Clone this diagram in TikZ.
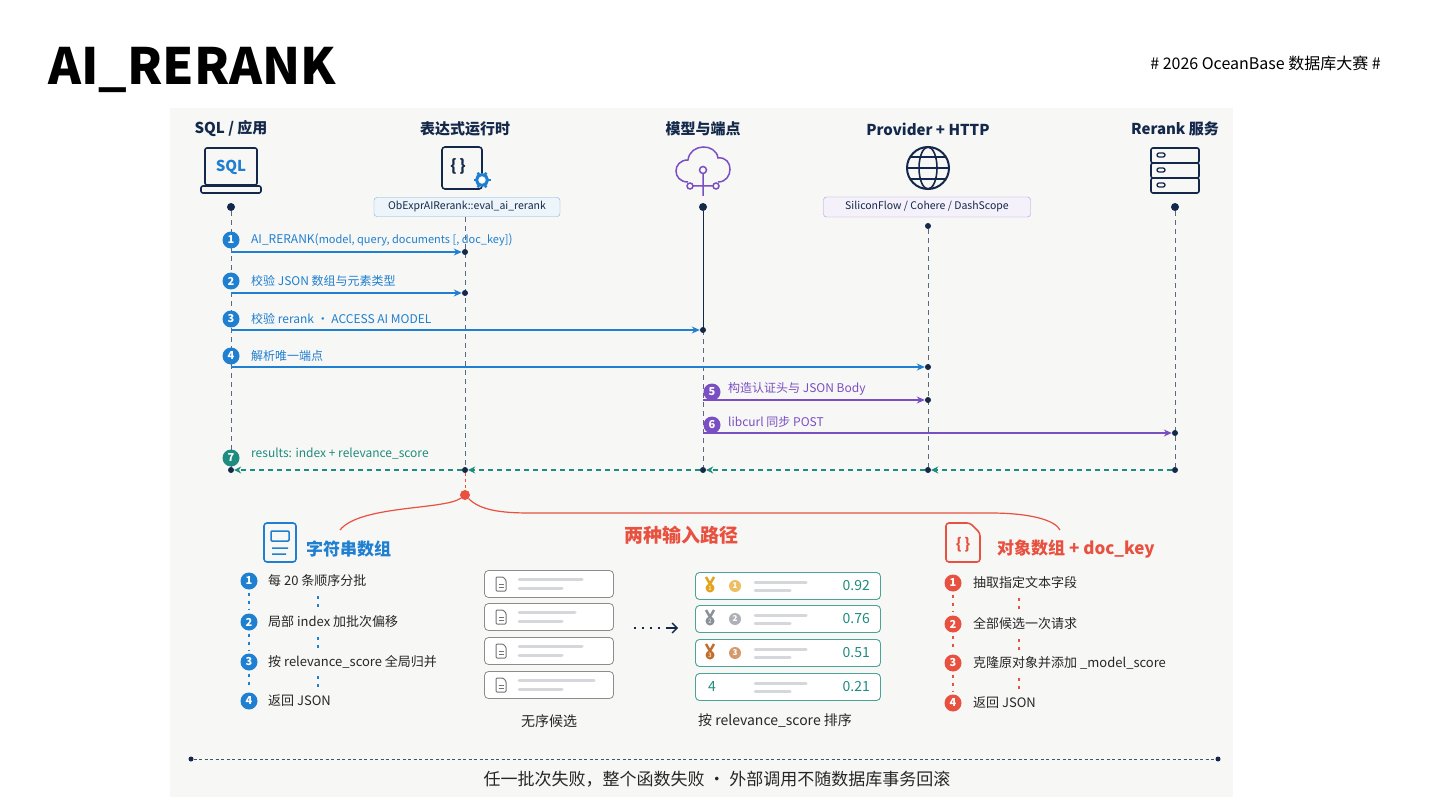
\documentclass[tikz,border=0pt]{standalone}
\usepackage{fontspec}
\setmainfont{Noto Sans CJK SC}
\usetikzlibrary{arrows.meta,calc}
\definecolor{cb}{HTML}{1F7FD0}
\definecolor{cp}{HTML}{7B4FC4}
\definecolor{ct}{HTML}{1E8C7E}
\definecolor{cr}{HTML}{E8503F}
\definecolor{cd}{HTML}{13284A}
\definecolor{bg}{HTML}{F7F7F5}
\definecolor{gl}{HTML}{D5D7DA}
\definecolor{gold}{HTML}{E2A41F}
\definecolor{silver}{HTML}{8A9098}
\definecolor{bronze}{HTML}{C0702E}
\tikzset{
 fs/.code={\fontsize{#1}{#1}\selectfont},
 hdr/.style={font={\fontsize{15}{15}\selectfont\bfseries},text=cd},
 dot/.style={circle,fill=cd,inner sep=0,minimum size=8pt},
 sdot/.style={circle,fill=cd,inner sep=0,minimum size=6pt},
 life/.style={cd!70,dashed,line width=0.8pt,dash pattern=on 5pt off 4pt},
 num/.style={circle,fill=#1,text=white,inner sep=0,minimum size=17pt,font={\fontsize{11}{11}\selectfont\bfseries}},
 msg/.style={anchor=west,text=#1,font={\fontsize{12}{12}\selectfont},inner sep=0},
 arr/.style={draw=#1,line width=1.3pt,-{Stealth[length=8pt,width=7pt]}},
 ret/.style={draw=ct,line width=1.1pt,dash pattern=on 5pt off 4pt,-{Stealth[length=7pt,width=7pt]}},
 item/.style={anchor=west,text=black!85,font={\fontsize{13}{13}\selectfont},inner sep=0},
 card/.style={draw=black!45,rounded corners=4pt,line width=0.8pt,fill=white},
 rcard/.style={draw=ct!80,rounded corners=4pt,line width=0.9pt,fill=white},
 bar/.style={draw=gl,line width=3pt,line cap=round},
 vdots/.style={draw=#1,line width=1.3pt,dash pattern=on 3pt off 5pt},
}
\begin{document}
\begin{tikzpicture}[x=1pt,y=-1pt]
\useasboundingbox (0,0) rectangle (1440,810);
\fill[white] (0,0) rectangle (1440,810);
\fill[bg] (170,108) rectangle (1233,797);
\node[anchor=west,inner sep=0,font={\fontsize{50}{50}\selectfont\bfseries},text=black] (title) at (48,70) {AI\_RERANK};
\node[anchor=east,inner sep=0,font={\fontsize{16}{16}\selectfont},text=black] (tag) at (1381,63) {\# 2026 OceanBase 数据库大赛 \#};
% headers
\node[hdr] (h1) at (231,129) {SQL / 应用};
\node[hdr] (h2) at (465,129) {表达式运行时};
\node[hdr] (h3) at (703,129) {模型与端点};
\node[hdr] (h4) at (928,129) {Provider + HTTP};
\node[hdr] (h5) at (1175,129) {Rerank 服务};
% icons
\draw[cd,line width=1.6pt,rounded corners=2pt] (205,148) rectangle (257,185);
\node[text=cb,font={\fontsize{15}{15}\selectfont\bfseries}] (sqlt) at (231,167) {SQL};
\draw[cd,line width=1.6pt,rounded corners=2pt] (201,186) rectangle (261,193);
\draw[cd,line width=1.6pt,rounded corners=3pt] (442,147) rectangle (482,189);
\node[text=cd,font={\fontsize{16}{16}\selectfont\bfseries}] (br) at (458,166) {\{\,\}};
\draw[cb,line width=3pt,fill=bg] (482,180) circle (5.5);
\foreach \a in {0,60,...,300}{\draw[cb,line width=2.5pt] ($(482,180)+(\a:5)$)--($(482,180)+(\a:8.5)$);}
\fill[white] (482,180) circle (2.2);
% cloud
\draw[cp,line width=1.5pt] (688,182) .. controls (672,182) and (672,160) .. (688,160) .. controls (690,143) and (716,143) .. (718,158) .. controls (734,156) and (734,182) .. (718,182);
\draw[cp,line width=1.5pt] (703,170) circle (3.5) (703,174)--(703,196) (690,186) circle (3) (716,186) circle (3) (693,186)--(713,186);
% globe
\draw[cd,line width=2pt] (928,168) circle (21);
\draw[cd,line width=1.6pt] (928,168) ellipse (9 and 21) (907,168)--(949,168) (911,157)--(945,157) (911,179)--(945,179);
% server
\foreach \yy in {148,163,178}{\draw[cd,line width=1.6pt,rounded corners=2pt] (1151,\yy) rectangle (1199,\yy+15); \draw[cd,line width=1.3pt,rounded corners=2pt] (1157,\yy+5) rectangle (1165,\yy+9);}
% pill labels
\node[draw=cb!60,fill=cb!8,rounded corners=3pt,minimum width=186pt,minimum height=19pt,inner sep=0,text=cd,font={\fontsize{10.5}{10.5}\selectfont}] (p1) at (467,207) {ObExprAIRerank::eval\_ai\_rerank};
\node[draw=cp!60,fill=cp!8,rounded corners=3pt,minimum width=207pt,minimum height=20pt,inner sep=0,text=cd,font={\fontsize{10.5}{10.5}\selectfont}] (p2) at (927,207) {SiliconFlow / Cohere / DashScope};
% lifelines
\node[dot] (t1) at (231,207) {}; \node[dot] (t3) at (703,207) {}; \node[dot] (t5) at (1175,207) {};
\node[sdot] (t4) at (928,226) {};
\coordinate (t2) at (465,217);
\node[sdot] (b1) at (231,470) {}; \node[sdot] (b2) at (465,470) {}; \node[sdot] (b3) at (703,470) {}; \node[sdot] (b4) at (928,470) {}; \node[sdot] (b5) at (1175,470) {};
\draw[life] (t1)--(b1); \draw[life] (t2)--(b2); \draw[life] (t4)--(b4); \draw[life] (t5)--(b5);
\draw[cd,line width=1pt] (t3)--(703,330); \draw[life] (703,330)--(b3);
% messages
\node[sdot] (m1) at (465,252) {}; \node[sdot] (m2) at (465,293) {}; \node[sdot] (m3) at (703,330) {};
\node[sdot] (m4) at (928,367) {}; \node[sdot] (m5) at (928,400) {}; \node[sdot] (m6) at (1175,433) {};
\coordinate (s1) at (231,252); \coordinate (s2) at (231,293); \coordinate (s3) at (231,330); \coordinate (s4) at (231,367);
\coordinate (s5) at (703,400); \coordinate (s6) at (703,433);
\draw[arr=cb] (s1)--(m1); \draw[arr=cb] (s2)--(m2); \draw[arr=cb] (s3)--(m3); \draw[arr=cb] (s4)--(m4);
\draw[arr=cp] (s5)--(m5); \draw[arr=cp] (s6)--(m6);
\node[num=cb] (n1) at (231,240) {1}; \node[msg=cb] (l1) at (251,240) {AI\_RERANK({\fontsize{11}{11}\selectfont model, query, documents [, doc\_key]})};
\node[num=cb] (n2) at (231,281) {2}; \node[msg=cb] (l2) at (251,281) {校验 JSON 数组与元素类型};
\node[num=cb] (n3) at (231,319) {3}; \node[msg=cb] (l3) at (251,319) {校验 rerank · ACCESS AI MODEL};
\node[num=cb] (n4) at (231,356) {4}; \node[msg=cb] (l4) at (251,356) {解析唯一端点};
\node[num=cp] (n5) at (712,392) {5}; \node[msg=cp] (l5) at (728,389) {构造认证头与 JSON Body};
\node[num=cp] (n6) at (712,425) {6}; \node[msg=cp] (l6) at (728,422) {libcurl 同步 POST};
\node[num=ct] (n7) at (231,458) {7}; \node[msg=ct] (l7) at (251,454) {results: index + relevance\_score};
\draw[ret] (b5)--(b4); \draw[ret] (b4)--(b3); \draw[ret] (b3)--(b2); \draw[ret] (b2)--(b1);
% brace
\node[circle,fill=cr,inner sep=0,minimum size=10pt] (rd) at (465,495) {};
\draw[cr,line width=1pt,dash pattern=on 3pt off 3pt] (b2)--(rd);
\draw[cr,line width=1.2pt] (rd) .. controls (445,510) and (360,505) .. (340,530);
\draw[cr,line width=1.2pt] (rd) .. controls (480,510) and (500,513) .. (530,513) -- (990,513) .. controls (1030,513) and (1055,520) .. (1060,530);
\node[text=cr,font={\fontsize{19}{19}\selectfont\bfseries}] (mid) at (681,535) {两种输入路径};
% left section
\draw[cb,line width=1.6pt,rounded corners=3pt] (264,523) rectangle (296,562);
\draw[cb,line width=1.5pt,rounded corners=1pt] (271,531) rectangle (289,541) (272,548)--(288,548) (272,554)--(286,554);
\node[anchor=west,inner sep=0,text=cb,font={\fontsize{17}{17}\selectfont\bfseries}] (lt) at (306,549) {字符串数组};
\foreach \i/\yy/\t in {1/581/每 20 条顺序分批,2/622/局部 index 加批次偏移,3/662/按 relevance\_score 全局归并,4/701/返回 JSON}{
 \node[num=cb] (ln\i) at (249,\yy) {\i}; \node[item] (lx\i) at (268,\yy) {\t};}
\foreach \a/\b in {1/2,2/3,3/4}{\draw[vdots=cb] ($(ln\a.south)+(0,3)$)--($(ln\b.north)+(0,-3)$);}
\foreach \yy in {592,633,672}{\draw[vdots=cb] (318,\yy+4)--(318,\yy+16);}
% cards
\foreach \k/\yy/\w in {1/584/63,2/617/56,3/651/63,4/685/75}{
 \node[card,minimum width=129pt,minimum height=27pt,inner sep=0] (c\k) at (549,\yy) {};
 \draw[black!55,line width=1pt,rounded corners=1pt] (496,\yy-7) -- (503,\yy-7) -- (506,\yy-4) -- (506,\yy+7) -- (496,\yy+7) -- cycle;
 \draw[black!55,line width=0.8pt] (498.5,\yy) -- (503.5,\yy) (498.5,\yy+3) -- (503.5,\yy+3);
 \draw[bar] (519,\yy-5)--(519+\w,\yy-5); \draw[bar] (519,\yy+4)--(562,\yy+4);}
\node[font={\fontsize{14}{14}\selectfont},text=black!85] (ul) at (549,721) {无序候选};
\coordinate (ar0) at (634,628); \coordinate (ar1) at (678,628);
\draw[cd,line width=1.3pt,dash pattern=on 2pt off 6pt] (ar0)--(664,628);
\draw[cd,line width=1.3pt,-{Straight Barb[length=5pt,width=10pt]}] (666,628)--(ar1);
% ranked
\foreach \k/\yy/\s/\mc in {1/586/0.92/gold,2/619/0.76/silver,3/653/0.51/bronze,4/687/0.21/none}{
 \node[rcard,minimum width=185pt,minimum height=27pt,inner sep=0] (r\k) at (788,\yy) {};
 \node[anchor=east,inner sep=0,text=ct,font={\fontsize{14}{14}\selectfont}] (rs\k) at (870,\yy) {\s};
 \draw[bar] (755,\yy-4)--(806,\yy-4); \draw[bar] (755,\yy+4)--(790,\yy+4);}
\foreach \k/\yy/\mc in {1/586/gold,2/619/silver,3/653/bronze}{
 \draw[\mc,line width=2.5pt] (706,\yy-9)--(710,\yy-2)--(714,\yy-9);
 \node[circle,fill=\mc,inner sep=0,minimum size=9pt,text=white,font={\fontsize{6}{6}\selectfont}] (md\k) at (710,\yy+2) {\k};
 \node[circle,fill=\mc!70,inner sep=0,minimum size=12pt,text=white,font={\fontsize{8}{8}\selectfont\bfseries}] (mc\k) at (735,\yy) {\k};}
\node[anchor=west,inner sep=0,text=ct,font={\fontsize{14}{14}\selectfont}] (r4n) at (708,687) {4};
\node[font={\fontsize{14}{14}\selectfont},text=black!85] (rl) at (775,721) {按 relevance\_score 排序};
% right section
\draw[cr,line width=1.6pt,rounded corners=3pt] (946,523) -- (970,523) -- (980,533) -- (980,562) -- (946,562) -- cycle;
\node[text=cr,font={\fontsize{15}{15}\selectfont\bfseries}] (rb) at (963,545) {\{\,\}};
\node[anchor=west,inner sep=0,text=cr,font={\fontsize{17}{17}\selectfont\bfseries}] (rt) at (997,549) {对象数组 + doc\_key};
\foreach \i/\yy/\t in {1/583/抽取指定文本字段,2/624/全部候选一次请求,3/663/克隆原对象并添加 \_model\_score,4/703/返回 JSON}{
 \node[num=cr] (rn\i) at (953,\yy) {\i}; \node[item] (rx\i) at (973,\yy) {\t};}
\foreach \a/\b in {1/2,2/3,3/4}{\draw[vdots=cr] ($(rn\a.south)+(0,3)$)--($(rn\b.north)+(0,-3)$);}
\foreach \yy in {594,635,674}{\draw[vdots=cr] (1019,\yy+4)--(1019,\yy+16);}
% footer
\node[circle,fill=cd,inner sep=0,minimum size=5pt] (f1) at (191,759) {};
\node[circle,fill=cd,inner sep=0,minimum size=5pt] (f2) at (1218,759) {};
\draw[cd!80,line width=0.6pt,dash pattern=on 3pt off 2.5pt] (f1)--(f2);
\node[font={\fontsize{17}{17}\selectfont},text=black!85] (ft) at (717,779) {任一批次失败，整个函数失败 · 外部调用不随数据库事务回滚};
\end{tikzpicture}
\end{document}
